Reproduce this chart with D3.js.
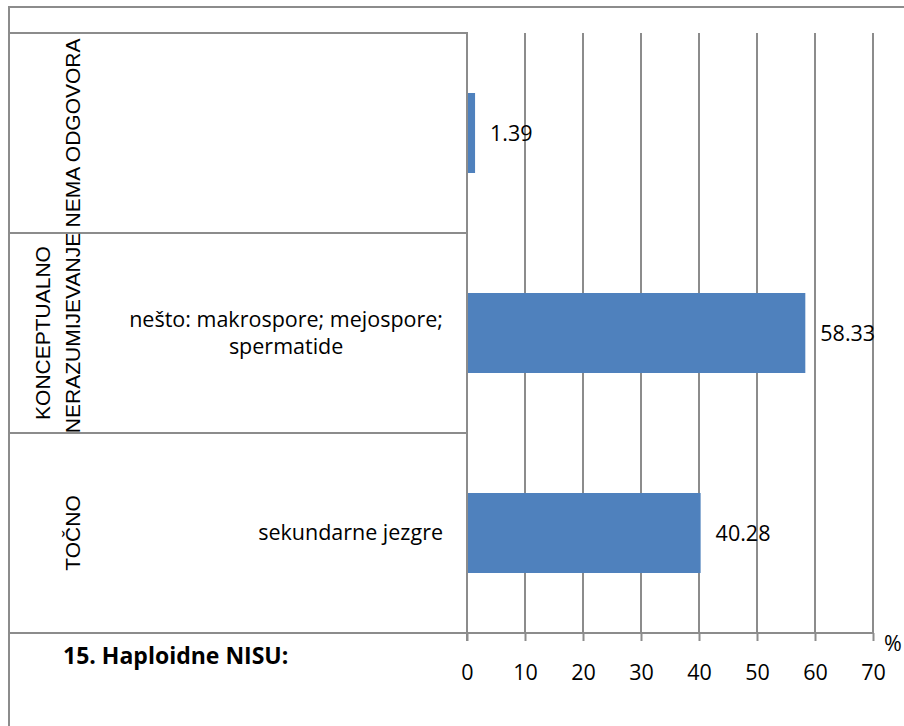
<!DOCTYPE html>
<html>
<head>
<meta charset="utf-8">
<script src="https://cdn.jsdelivr.net/npm/d3@7"></script>
<style>
  html, body { margin: 0; padding: 0; background: #fff; }
  svg { display: block; }
</style>
</head>
<body>
<svg id="chart" width="904" height="726"></svg>
<script>
// ---- data ----
const groupLabels = [["NEMA ODGOVORA"], ["KONCEPTUALNO", "NERAZUMIJEVANJE"], ["TOČNO"]];
const answerLabels = [[], ["nešto: makrospore; mejospore;", "spermatide"], ["sekundarne jezgre"]];
const values = [1.39, 58.33, 40.28];
const valueLabels = ["1.39", "58.33", "40.28"];
const tickValues = [0, 10, 20, 30, 40, 50, 60, 70];
const axisUnit = "%";
const title = "15. Haploidne NISU:";

// ---- layout ----
const svg = d3.select("#chart");
const gridColor = "#8c8c8c";
const barColor = "#4F81BD";
const calibri = "'Open Sans', 'Noto Sans', sans-serif";
const arial = "'Liberation Sans', Arial, sans-serif";
const fs = 21.5;

const tableLeft = 9, plotTop = 33, plotBottom = 633;
const x = d3.scaleLinear().domain([0, 70]).range([467, 873]);
const rows = d3.range(values.length);
const y = d3.scaleBand().domain(rows).range([plotTop, plotBottom]).paddingInner(0.6).paddingOuter(0.3);
const rowBand = d3.scaleBand().domain(rows).range([plotTop, plotBottom]);

// outer frame
svg.append("rect")
  .attr("x", 9).attr("y", 7).attr("width", 904).attr("height", 740)
  .attr("fill", "none").attr("stroke", gridColor).attr("stroke-width", 2);

// gridlines
svg.append("g").selectAll("line").data(tickValues.slice(1)).join("line")
  .attr("x1", d => x(d)).attr("x2", d => x(d))
  .attr("y1", plotTop).attr("y2", plotBottom)
  .attr("stroke", gridColor).attr("stroke-width", 2);

// category table
const tbl = svg.append("g").attr("stroke", gridColor).attr("stroke-width", 2).attr("fill", "none");
tbl.append("line").attr("x1", tableLeft).attr("x2", x(0) + 1).attr("y1", plotTop).attr("y2", plotTop);
rows.slice(1).forEach(r => {
  tbl.append("line").attr("x1", tableLeft).attr("x2", x(0)).attr("y1", rowBand(r)).attr("y2", rowBand(r));
});

// bars
svg.append("g").selectAll("rect").data(values).join("rect")
  .attr("x", x(0)).attr("y", (d, i) => y(i))
  .attr("width", d => x(d) - x(0)).attr("height", y.bandwidth())
  .attr("fill", barColor);

// x axis
const axis = d3.axisBottom(x).tickValues(tickValues).tickSize(8).tickPadding(24).tickFormat(d3.format("d"));
const ax = svg.append("g").attr("transform", `translate(0,${plotBottom})`).call(axis);
ax.select(".domain").remove();
ax.selectAll(".tick line").attr("stroke", gridColor).attr("stroke-width", 2);
ax.selectAll(".tick text").attr("font-family", calibri).attr("font-size", fs).attr("fill", "#000");
// baseline line across table and axis
svg.append("line").attr("x1", tableLeft).attr("x2", x(70)).attr("y1", plotBottom).attr("y2", plotBottom)
  .attr("stroke", gridColor).attr("stroke-width", 2);
// vertical axis line
svg.append("line").attr("x1", x(0)).attr("x2", x(0)).attr("y1", plotTop).attr("y2", plotBottom + 8)
  .attr("stroke", gridColor).attr("stroke-width", 2);

svg.append("text").attr("x", 893).attr("y", 651).attr("text-anchor", "middle")
  .attr("font-family", calibri).attr("font-size", fs).text(axisUnit);

// value labels
svg.append("g").selectAll("text").data(values).join("text")
  .attr("x", d => x(d) + 15).attr("y", (d, i) => y(i) + y.bandwidth() / 2 + 8)
  .attr("font-family", calibri).attr("font-size", fs)
  .text((d, i) => valueLabels[i]);

// group labels (rotated)
groupLabels.forEach((lines, i) => {
  const cy = rowBand(i) + rowBand.bandwidth() / 2;
  const n = lines.length;
  lines.forEach((t, j) => {
    const bx = 80 - (n - 1 - j) * 30;
    svg.append("text")
      .attr("transform", `translate(${bx},${cy}) rotate(-90)`)
      .attr("text-anchor", "middle")
      .attr("font-family", arial).attr("font-size", 21)
      .text(t);
  });
});

// answer labels: block right-aligned, lines centered within block
const blockRight = 443;
answerLabels.forEach((lines, i) => {
  if (!lines.length) return;
  const cy = rowBand(i) + rowBand.bandwidth() / 2;
  const g = svg.append("g");
  const texts = lines.map(t => g.append("text")
    .attr("font-family", calibri).attr("font-size", fs).attr("text-anchor", "middle").text(t));
  const w = d3.max(texts, tx => tx.node().getComputedTextLength());
  const cx = blockRight - w / 2;
  const lh = 27;
  const base0 = cy + 7 - (lines.length - 1) * lh / 2;
  texts.forEach((tx, j) => tx.attr("x", cx).attr("y", base0 + j * lh));
});

// title
svg.append("text").attr("x", 63).attr("y", 664)
  .attr("font-family", calibri).attr("font-size", 23).attr("font-weight", "bold")
  .text(title);
</script>
</body>
</html>
